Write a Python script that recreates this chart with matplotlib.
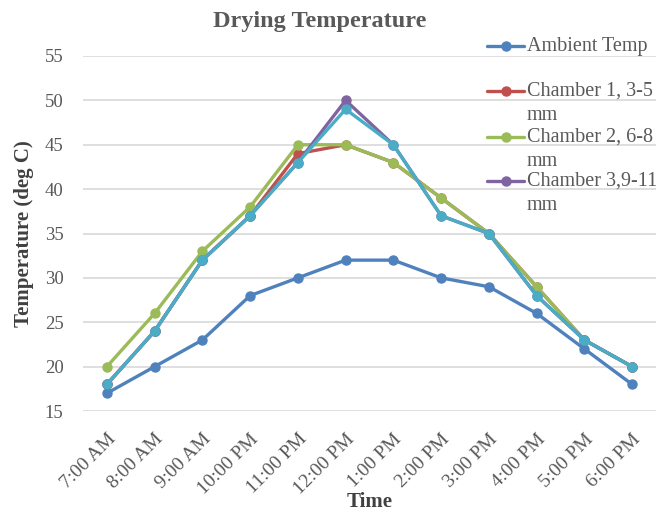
import matplotlib
matplotlib.use("Agg")
import matplotlib.pyplot as plt
from matplotlib.lines import Line2D

times = ["7:00 AM", "8:00 AM", "9:00 AM", "10:00 PM", "11:00 PM", "12:00 PM",
         "1:00 PM", "2:00 PM", "3:00 PM", "4:00 PM", "5:00 PM", "6:00 PM"]
ambient = [17, 20, 23, 28, 30, 32, 32, 30, 29, 26, 22, 18]
chamber1 = [18, 24, 32, 37, 44, 45, 43, 39, 35, 29, 23, 20]
chamber2 = [20, 26, 33, 38, 45, 45, 43, 39, 35, 29, 23, 20]
chamber3 = [18, 24, 32, 37, 43, 50, 45, 37, 35, 28, 23, 20]
chamber4 = [18, 24, 32, 37, 43, 49, 45, 37, 35, 28, 23, 20]

series = [
    (["Ambient Temp"], ambient, "#4F81BD"),
    (["Chamber 1, 3-5", "mm"], chamber1, "#C0504D"),
    (["Chamber 2, 6-8", "mm"], chamber2, "#9BBB59"),
    (["Chamber 3,9-11", "mm"], chamber3, "#8064A2"),
    (None, chamber4, "#4BACC6"),
]

plt.rcParams['font.family'] = ['Liberation Serif', 'DejaVu Serif']
fig = plt.figure(figsize=(6.69, 5.15), dpi=100)
ax = fig.add_axes([83/669, 1-411/515, (656-83)/669, (411-56)/515])

x = list(range(len(times)))
for label, vals, col in series:
    ax.plot(x, vals, color=col, lw=2.4, marker='o', ms=6.5,
            solid_capstyle='round', solid_joinstyle='round')

ax.set_xlim(-0.5, len(times) - 0.5)
ax.set_ylim(15, 55)
ax.set_yticks(range(15, 56, 5))
ax.set_xticks(x)
ax.set_xticklabels(times, rotation=45, ha='right', rotation_mode='anchor')
ax.tick_params(axis='both', length=0, labelcolor='#595959')
ax.tick_params(axis='y', labelsize=13.5, pad=14)
ax.tick_params(axis='x', labelsize=14, pad=14)
ax.grid(axis='y', color='#D9D9D9', lw=1.2)
ax.set_axisbelow(True)
for s in ax.spines.values():
    s.set_visible(False)

ax.set_ylabel("Temperature (deg C)", fontsize=15, fontweight='bold', color='#404040', labelpad=8)
ax.set_xlabel("Time", fontsize=15, fontweight='bold', color='#404040', labelpad=-4)
fig.text(320/669, 1-21/515, "Drying Temperature", ha='center', va='center',
         fontsize=17.5, fontweight='bold', color='#595959')

# manual legend (handle aligned with first line of each label)
W, H = 669, 515
entry_y = [46, 91, 137, 181]
for (label, vals, col), yy in zip(series[:4], entry_y):
    yf = 1 - yy / H
    fig.add_artist(Line2D([487/W, 524/W], [yf, yf], transform=fig.transFigure,
                          color=col, lw=2.4, solid_capstyle='round'))
    fig.add_artist(Line2D([505.5/W], [yf], transform=fig.transFigure,
                          color=col, marker='o', ms=6.5, lw=0))
    for i, line in enumerate(label):
        fig.text(527/W, 1 - (yy + 24 * i) / H, line, ha='left', va='center',
                 fontsize=14.5, color='#595959')

fig.savefig("out.png", dpi=100, facecolor='white')
